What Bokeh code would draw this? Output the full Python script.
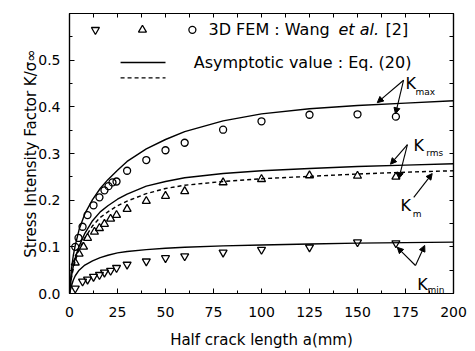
from bokeh.plotting import figure
from bokeh.models import (LinearAxis, SingleIntervalTicker, FixedTicker, Range1d, Arrow,
                          NormalHead, NumeralTickFormatter)
from bokeh.core.properties import value
from bokeh.embed import file_html
from bokeh.resources import INLINE

# ---------------- data ----------------
# 3D FEM (Wang et al.) : K_max (circles)
fem_max_a = [3, 4.7, 6.8, 9.4, 12.5, 15.6, 18.2, 20.3, 22.4, 24.5, 30, 40, 50, 60, 80, 100, 125, 150, 170]
fem_max_k = [0.100, 0.119, 0.143, 0.168, 0.189, 0.206, 0.221, 0.230, 0.238, 0.240,
             0.263, 0.286, 0.307, 0.323, 0.351, 0.369, 0.383, 0.384, 0.379]
# 3D FEM : K_m (triangles)
fem_m_a = [3, 5, 7.3, 9.4, 13, 15.6, 18.2, 21.4, 24.5, 30, 40, 50, 60, 80, 100, 125, 150, 170]
fem_m_k = [0.066, 0.085, 0.100, 0.119, 0.132, 0.140, 0.149, 0.160, 0.168,
           0.181, 0.198, 0.209, 0.219, 0.238, 0.245, 0.253, 0.252, 0.250]
# 3D FEM : K_min (inverted triangles)
fem_min_a = [3, 6.8, 9.4, 12.5, 15.6, 18.2, 21.4, 24.5, 30, 40, 50, 60, 80, 100, 125, 150, 170]
fem_min_k = [0.011, 0.026, 0.030, 0.036, 0.040, 0.045, 0.049, 0.055,
             0.062, 0.069, 0.076, 0.080, 0.088, 0.094, 0.099, 0.110, 0.108]

# Asymptotic value : Eq. (20)
asym_a = [0, 1, 2, 3, 5, 8, 12, 16, 20, 25, 30, 40, 50, 60, 80, 100, 125, 150, 175, 200]
asym_kmax = [0.0, 0.052, 0.082, 0.103, 0.137, 0.171, 0.201, 0.225, 0.244, 0.264, 0.283,
             0.310, 0.330, 0.347, 0.370, 0.385, 0.396, 0.403, 0.408, 0.413]
asym_krms = [0.0, 0.036, 0.059, 0.076, 0.101, 0.129, 0.156, 0.175, 0.188, 0.202, 0.213,
             0.230, 0.240, 0.248, 0.257, 0.263, 0.268, 0.272, 0.275, 0.278]
asym_km = [0.0, 0.033, 0.054, 0.070, 0.094, 0.119, 0.145, 0.163, 0.175, 0.188, 0.198,
           0.214, 0.225, 0.232, 0.240, 0.246, 0.251, 0.256, 0.260, 0.263]
asym_kmin = [0.0, 0.016, 0.029, 0.038, 0.050, 0.061, 0.070, 0.077, 0.082, 0.087, 0.090,
             0.094, 0.097, 0.099, 0.102, 0.104, 0.106, 0.108, 0.109, 0.110]

FONT = "DejaVu Sans"

# ---------------- figure ----------------
p = figure(width=475, height=351, x_range=Range1d(0, 200), y_range=Range1d(0, 0.6),
           output_backend="svg", toolbar_location=None,
           min_border_left=69, min_border_right=22, min_border_top=13, min_border_bottom=56,
           x_axis_label="Half crack length a(mm)",
           y_axis_label="Stress Intensity Factor K/\u03c3\u221e")
p.grid.visible = False
p.outline_line_color = "black"
p.outline_line_width = 1.2
p.background_fill_color = "white"
p.border_fill_color = "white"

p.xaxis.ticker = SingleIntervalTicker(interval=25, num_minor_ticks=2)
p.yaxis.ticker = SingleIntervalTicker(interval=0.1, num_minor_ticks=2)
p.yaxis.formatter = NumeralTickFormatter(format="0.0")

for ax in (p.xaxis, p.yaxis):
    ax.axis_line_color = "black"
    ax.axis_line_width = 1.2
    ax.major_tick_in = 5
    ax.major_tick_out = 0
    ax.minor_tick_in = 3
    ax.minor_tick_out = 0
    ax.major_tick_line_color = "black"
    ax.minor_tick_line_color = "black"
    ax.major_label_text_font = FONT
    ax.major_label_text_font_size = "14px"
    ax.major_label_text_color = "black"
    ax.axis_label_text_font = FONT
    ax.axis_label_text_font_size = "15px"
    ax.axis_label_text_font_style = "normal"
    ax.axis_label_text_color = "black"

p.xaxis.major_label_standoff = 13
p.xaxis.axis_label_standoff = 11
p.yaxis.major_label_standoff = 9
p.yaxis.axis_label_standoff = -5

# mirrored axes: tick marks only (all as unlabeled minor ticks)
x_mirror = [t / 2 for t in range(0, 401, 25)]
y_mirror = [round(0.05 * i, 2) for i in range(0, 13)]
for loc, ticks in (("right", y_mirror), ("above", x_mirror)):
    ax = LinearAxis(ticker=FixedTicker(ticks=[], minor_ticks=ticks),
                    major_label_standoff=0, major_tick_in=0, major_tick_out=0,
                    minor_tick_in=4, minor_tick_out=0,
                    axis_line_color="black", axis_line_width=1.2)
    p.add_layout(ax, loc)

# ---------------- curves ----------------
LW = 1.4
p.line(asym_a, asym_kmax, line_color="black", line_width=LW)
p.line(asym_a, asym_krms, line_color="black", line_width=LW)
p.line(asym_a, asym_km, line_color="black", line_width=LW, line_dash="4 3")
p.line(asym_a, asym_kmin, line_color="black", line_width=LW)

# ---------------- FEM points ----------------
MK = dict(fill_color=None, line_color="black", line_width=1.3)
p.scatter(fem_max_a, fem_max_k, marker="circle", size=7, **MK)
p.scatter(fem_m_a, fem_m_k, marker="triangle", size=8, **MK)
p.scatter(fem_min_a, fem_min_k, marker="inverted_triangle", size=8, **MK)

# ---------------- legend (drawn by hand, as in the original) ----------------
LEG_Y1 = 0.565
p.scatter([13.5], [LEG_Y1], marker="inverted_triangle", size=8, **MK)
p.scatter([38.0], [LEG_Y1], marker="triangle", size=8, **MK)
p.scatter([64.0], [LEG_Y1], marker="circle", size=7, **MK)
tf = dict(text_font=value(FONT), text_font_size="16px", text_baseline="middle",
          text_align="left", text_color="black")
p.text(x=[72.4], y=[LEG_Y1], text=["3D FEM : Wang"], **tf)
p.text(x=[140.1], y=[LEG_Y1], text=["et al."], text_font_style="italic", **tf)
p.text(x=[164.6], y=[LEG_Y1], text=["[2]"], **tf)

p.segment(x0=[26.6], y0=[0.495], x1=[50.0], y1=[0.495], line_color="black", line_width=LW)
p.segment(x0=[26.6], y0=[0.462], x1=[50.0], y1=[0.462], line_color="black", line_width=LW,
          line_dash="4 3")
p.text(x=[64.7], y=[0.494], text=["Asymptotic value : Eq. (20)"], **tf)

# ---------------- K labels with arrows ----------------
kf = dict(text_font=value(FONT), text_font_size="16px", text_baseline="middle",
          text_align="left", text_color="black")
sf = dict(text_font=value(FONT), text_font_size="9px", text_baseline="middle",
          text_align="left", text_color="black")

def klabel(x, y, sub, sx, sy):
    p.text(x=[x], y=[y], text=["K"], **kf)
    p.text(x=[sx], y=[sy], text=[sub], **sf)

klabel(175.0, 0.451, "max", 180.2, 0.432)
klabel(179.2, 0.318, "rms", 185.8, 0.302)
klabel(172.4, 0.188, "m", 178.8, 0.170)
klabel(181.1, 0.020, "min", 186.5, 0.008)

def arrow(x0, y0, x1, y1):
    p.add_layout(Arrow(end=NormalHead(size=6, fill_color="black", line_color="black"),
                       x_start=x0, y_start=y0, x_end=x1, y_end=y1,
                       line_color="black", line_width=1.1))

arrow(174.0, 0.457, 160.3, 0.409)
arrow(174.0, 0.457, 169.8, 0.385)
arrow(176.0, 0.319, 167.2, 0.277)
arrow(176.0, 0.319, 171.5, 0.246)
arrow(179.3, 0.206, 188.9, 0.257)
arrow(180.2, 0.060, 170.7, 0.099)
arrow(180.2, 0.060, 185.0, 0.103)

open("out.html", "w").write(file_html(p, INLINE))
